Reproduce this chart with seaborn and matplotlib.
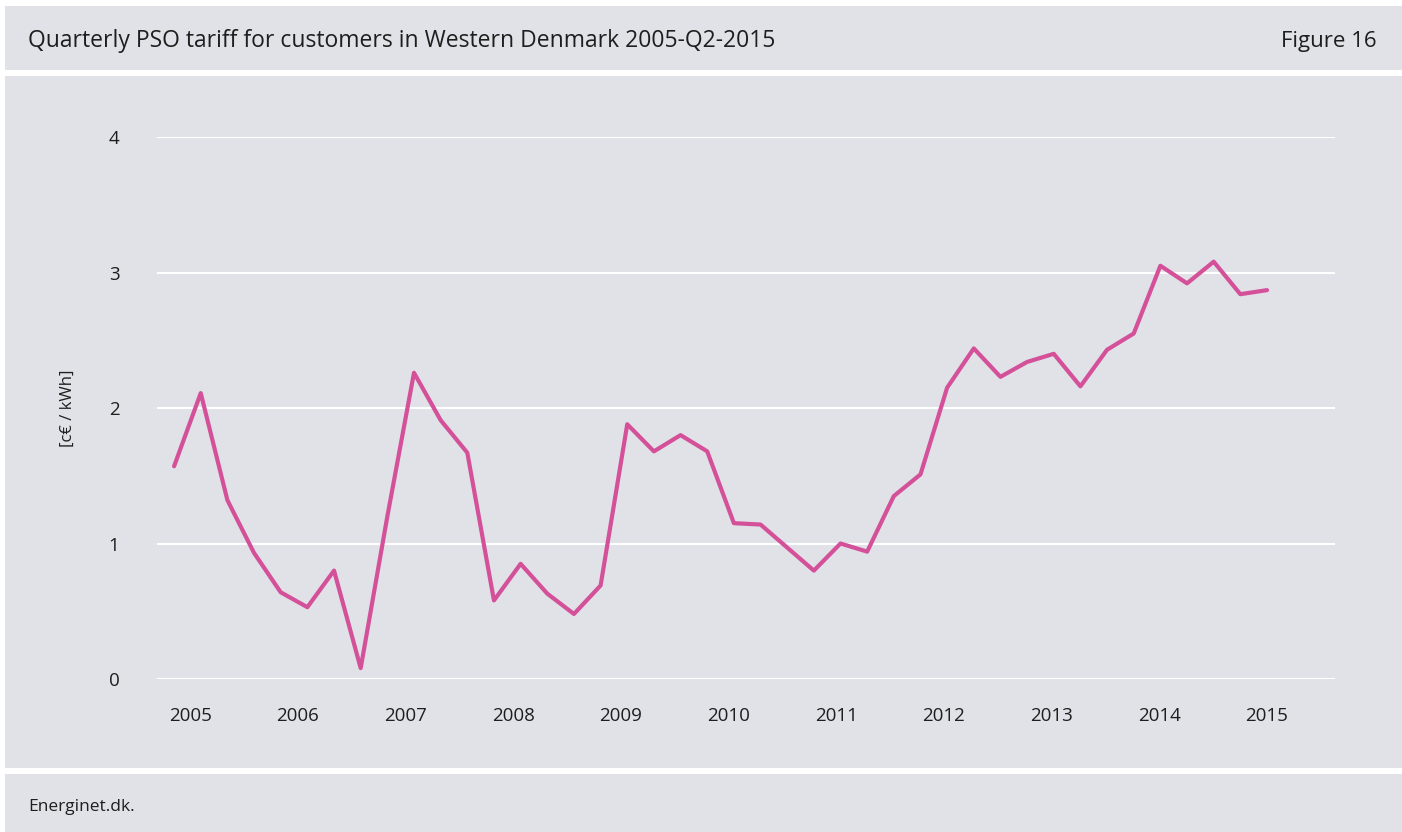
import numpy as np
import pandas as pd
import seaborn as sns
import matplotlib.pyplot as plt
from matplotlib.patches import Rectangle

# quarterly PSO tariff, c€/kWh
tariff = [1.57, 2.11, 1.32, 0.93, 0.64, 0.53, 0.80, 0.08, 1.20, 2.26,
          1.91, 1.67, 0.58, 0.85, 0.63, 0.48, 0.69, 1.88, 1.68, 1.80,
          1.68, 1.15, 1.14, 0.97, 0.80, 1.00, 0.94, 1.35, 1.51, 2.15,
          2.44, 2.23, 2.34, 2.40, 2.16, 2.43, 2.55, 3.05, 2.92, 3.08,
          2.84, 2.87]
years = ['2005', '2006', '2007', '2008', '2009', '2010', '2011', '2012', '2013', '2014', '2015']
yticks = [0, 1, 2, 3, 4]

title = 'Quarterly PSO tariff for customers in Western Denmark 2005-Q2-2015'
fig_no = 'Figure 16'
source = 'Energinet.dk.'
ylabel = '[c€ / kWh]'

BG = '#e1e2e7'
PINK = '#d4519a'
TXT = '#1e1e1e'

sns.set_style('white')
plt.rcParams['font.family'] = ['Open Sans', 'DejaVu Sans']

df = pd.DataFrame({'q': np.arange(len(tariff)), 'tariff': tariff})

fig = plt.figure(figsize=(14.02, 8.32), dpi=100)
fig.patch.set_facecolor('white')

# panels: title bar, plot area, footer
for (y0, h) in [(0.9159, 0.0769), (0.0769, 0.8317), (0.0, 0.0697)]:
    fig.patches.append(Rectangle((5 / 1402, y0), 1, h, transform=fig.transFigure,
                                 facecolor=BG, edgecolor='none', zorder=-10))

fig.text(0.02, 0.9507, title, fontsize=16.5, color=TXT, va='center', ha='left')
fig.text(0.982, 0.9507, fig_no, fontsize=16, color=TXT, va='center', ha='right')
fig.text(0.02, 0.030, source, fontsize=12.5, color=TXT, va='center', ha='left')

ax = fig.add_axes([0.112, 0.1839, 0.8402, 0.6514])
ax.set_facecolor('none')
sns.lineplot(data=df, x='q', y='tariff', ax=ax, color=PINK, linewidth=3, clip_on=False)

ax.set_xlim(-0.64, 43.55)
ax.set_ylim(0, 4)
ax.set_yticks(yticks)
ax.set_yticklabels([str(t) for t in yticks])
ax.set_xticks(np.linspace(0.6, 41.0, len(years)))
ax.set_xticklabels(years)
ax.tick_params(axis='y', length=0, pad=27, labelsize=13.5, labelcolor=TXT)
ax.tick_params(axis='x', length=0, pad=20, labelsize=13.5, labelcolor=TXT)
ax.grid(axis='y', color='white', linewidth=1.5)
ax.grid(axis='x', visible=False)
ax.set_axisbelow(True)
for s in ax.spines.values():
    s.set_visible(False)
ax.set_xlabel('')
ax.set_ylabel(ylabel, fontsize=12, color=TXT, labelpad=24)

fig.savefig('out.png', dpi=100, facecolor='white')
